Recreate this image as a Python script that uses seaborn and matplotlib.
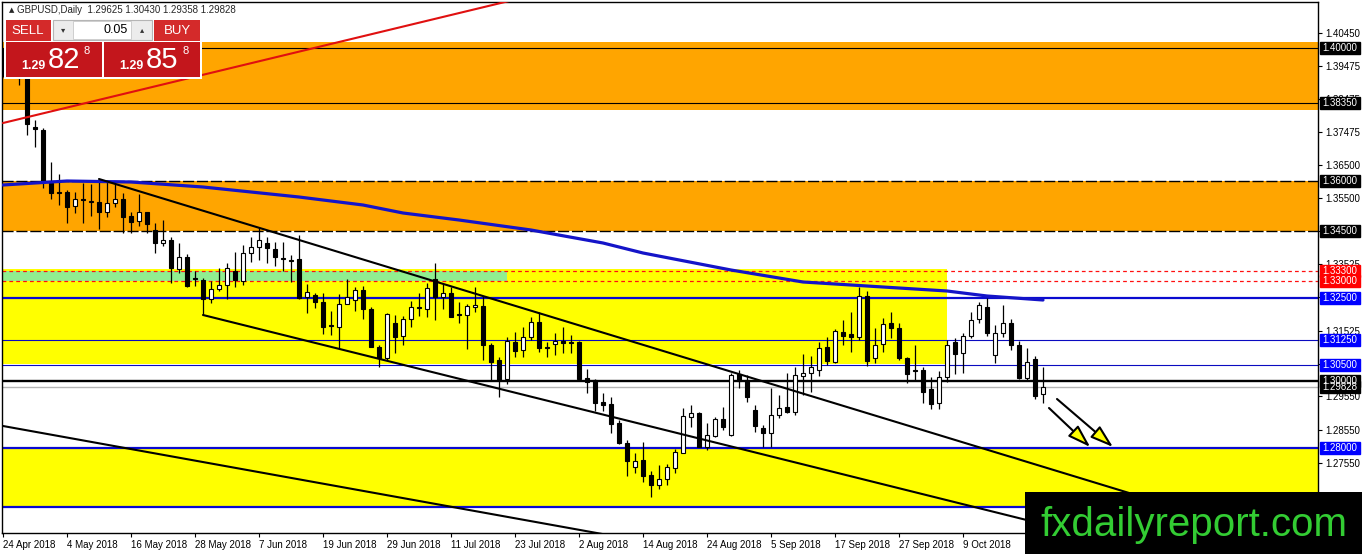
import numpy as np
import matplotlib
matplotlib.use("Agg")
import matplotlib.pyplot as plt
import matplotlib.transforms as mtransforms
from matplotlib.patches import Rectangle
import seaborn as sns

# daily GBPUSD candles, 24 Apr 2018 .. 23 Oct 2018
opens = [1.3966, 1.3970, 1.3930, 1.3925, 1.3763, 1.3754, 1.3595, 1.3567, 1.3568, 1.3526,
         1.3545, 1.3538, 1.3538, 1.3508, 1.3535, 1.3547, 1.3496, 1.3481, 1.3508, 1.3454,
         1.3415, 1.3424, 1.3337, 1.3373, 1.3307, 1.3304, 1.3247, 1.3277, 1.3289, 1.3331,
         1.3301, 1.3385, 1.3403, 1.3415, 1.3397, 1.3367, 1.3364, 1.3367, 1.3253, 1.3259,
         1.3238, 1.3166, 1.3163, 1.3232, 1.3244, 1.3274, 1.3217, 1.3103, 1.3070, 1.3175,
         1.3136, 1.3187, 1.3220, 1.3217, 1.3307, 1.3253, 1.3265, 1.3199, 1.3199, 1.3223,
         1.3226, 1.3109, 1.3064, 1.3007, 1.3118, 1.3094, 1.3133, 1.3178, 1.3100, 1.3112,
         1.3121, 1.3118, 1.3118, 1.3010, 1.3004, 1.2938, 1.2932, 1.2875, 1.2815, 1.2743,
         1.2764, 1.2719, 1.2689, 1.2707, 1.2740, 1.2785, 1.2893, 1.2905, 1.2803, 1.2836,
         1.2887, 1.2839, 1.3022, 1.3004, 1.2914, 1.2860, 1.2845, 1.2899, 1.2923, 1.2908,
         1.3016, 1.3025, 1.3034, 1.3103, 1.3058, 1.3148, 1.3142, 1.3133, 1.3256, 1.3070,
         1.3112, 1.3175, 1.3160, 1.3070, 1.3031, 1.3034, 1.2977, 1.2935, 1.3013, 1.3118,
         1.3085, 1.3136, 1.3187, 1.3223, 1.3079, 1.3145, 1.3175, 1.3109, 1.3010, 1.3067,
         1.29625]
highs = [1.4000, 1.3990, 1.3960, 1.3930, 1.3784, 1.3760, 1.3658, 1.3622, 1.3574, 1.3568,
         1.3595, 1.3592, 1.3607, 1.3601, 1.3598, 1.3565, 1.3508, 1.3562, 1.3508, 1.3475,
         1.3484, 1.3433, 1.3415, 1.3382, 1.3331, 1.3310, 1.3301, 1.3340, 1.3355, 1.3388,
         1.3409, 1.3433, 1.3463, 1.3433, 1.3418, 1.3418, 1.3379, 1.3439, 1.3292, 1.3265,
         1.3265, 1.3211, 1.3262, 1.3307, 1.3283, 1.3286, 1.3223, 1.3109, 1.3205, 1.3199,
         1.3196, 1.3241, 1.3265, 1.3295, 1.3355, 1.3295, 1.3283, 1.3238, 1.3232, 1.3283,
         1.3256, 1.3115, 1.3073, 1.3133, 1.3148, 1.3163, 1.3193, 1.3208, 1.3118, 1.3145,
         1.3163, 1.3139, 1.3121, 1.3037, 1.3007, 1.2965, 1.2953, 1.2884, 1.2824, 1.2785,
         1.2818, 1.2731, 1.2749, 1.2752, 1.2797, 1.2920, 1.2929, 1.2908, 1.2875, 1.2893,
         1.2923, 1.3025, 1.3034, 1.3019, 1.2929, 1.2869, 1.2980, 1.2959, 1.3025, 1.3043,
         1.3082, 1.3076, 1.3118, 1.3133, 1.3157, 1.3184, 1.3208, 1.3283, 1.3271, 1.3160,
         1.3190, 1.3208, 1.3175, 1.3073, 1.3109, 1.3043, 1.3013, 1.3031, 1.3124, 1.3130,
         1.3145, 1.3208, 1.3238, 1.3250, 1.3169, 1.3229, 1.3187, 1.3121, 1.3100, 1.3076,
         1.30430]
lows = [1.3912, 1.3925, 1.3889, 1.3739, 1.3703, 1.3580, 1.3547, 1.3529, 1.3475, 1.3505,
        1.3475, 1.3496, 1.3457, 1.3493, 1.3523, 1.3445, 1.3445, 1.3466, 1.3445, 1.3385,
        1.3406, 1.3295, 1.3325, 1.3283, 1.3286, 1.3200, 1.3235, 1.3271, 1.3247, 1.3283,
        1.3289, 1.3358, 1.3364, 1.3355, 1.3346, 1.3331, 1.3298, 1.3247, 1.3205, 1.3220,
        1.3142, 1.3139, 1.3100, 1.3232, 1.3211, 1.3187, 1.3103, 1.3043, 1.3064, 1.3085,
        1.3109, 1.3163, 1.3196, 1.3193, 1.3184, 1.3217, 1.3193, 1.3175, 1.3097, 1.3208,
        1.3064, 1.3004, 1.2953, 1.2992, 1.3073, 1.3073, 1.3124, 1.3088, 1.3073, 1.3079,
        1.3085, 1.3085, 1.3004, 1.2965, 1.2911, 1.2911, 1.2845, 1.2812, 1.2716, 1.2725,
        1.2698, 1.2653, 1.2677, 1.2689, 1.2725, 1.2785, 1.2863, 1.2803, 1.2794, 1.2833,
        1.2854, 1.2836, 1.2980, 1.2938, 1.2848, 1.2803, 1.2803, 1.2890, 1.2905, 1.2899,
        1.2959, 1.2968, 1.3016, 1.3049, 1.3055, 1.3109, 1.3088, 1.3124, 1.3046, 1.3055,
        1.3088, 1.3130, 1.3064, 1.2995, 1.3004, 1.2935, 1.2917, 1.2917, 1.2998, 1.3022,
        1.3025, 1.3130, 1.3175, 1.3136, 1.3055, 1.3133, 1.3094, 1.3007, 1.3001, 1.2947,
        1.29358]
closes = [1.3970, 1.3935, 1.3910, 1.3772, 1.3758, 1.3601, 1.3565, 1.3565, 1.3523, 1.3547,
          1.3544, 1.3538, 1.3508, 1.3535, 1.3547, 1.3493, 1.3478, 1.3508, 1.3472, 1.3415,
          1.3424, 1.3340, 1.3373, 1.3286, 1.3306, 1.3247, 1.3277, 1.3289, 1.3340, 1.3304,
          1.3385, 1.3403, 1.3424, 1.3400, 1.3373, 1.3366, 1.3362, 1.3250, 1.3268, 1.3238,
          1.3163, 1.3165, 1.3232, 1.3253, 1.3274, 1.3217, 1.3103, 1.3070, 1.3202, 1.3133,
          1.3187, 1.3223, 1.3219, 1.3280, 1.3253, 1.3265, 1.3193, 1.3198, 1.3226, 1.3229,
          1.3109, 1.3058, 1.3004, 1.3121, 1.3091, 1.3133, 1.3178, 1.3100, 1.3099, 1.3121,
          1.3115, 1.3115, 1.3007, 1.2998, 1.2935, 1.2929, 1.2872, 1.2815, 1.2761, 1.2761,
          1.2716, 1.2689, 1.2707, 1.2743, 1.2788, 1.2896, 1.2905, 1.2803, 1.2839, 1.2887,
          1.2863, 1.3019, 1.3001, 1.2953, 1.2866, 1.2845, 1.2899, 1.2920, 1.2908, 1.3019,
          1.3025, 1.3043, 1.3100, 1.3061, 1.3151, 1.3136, 1.3133, 1.3256, 1.3061, 1.3109,
          1.3172, 1.3160, 1.3070, 1.3022, 1.3030, 1.2968, 1.2932, 1.3013, 1.3109, 1.3082,
          1.3136, 1.3184, 1.3229, 1.3145, 1.3145, 1.3175, 1.3109, 1.3010, 1.3058, 1.2956,
          1.29828]

date_labels = ["24 Apr 2018", "4 May 2018", "16 May 2018", "28 May 2018", "7 Jun 2018",
               "19 Jun 2018", "29 Jun 2018", "11 Jul 2018", "23 Jul 2018", "2 Aug 2018",
               "14 Aug 2018", "24 Aug 2018", "5 Sep 2018", "17 Sep 2018", "27 Sep 2018",
               "9 Oct 2018"]
date_bars = [0, 8, 16, 24, 32, 40, 48, 56, 64, 72, 80, 88, 96, 104, 112, 120]

# moving average, sampled along the drawn curve
ma_bars = [0, 8, 16, 25, 37, 45, 50, 57, 66, 75, 80, 91, 100, 110, 118, 123, 130]
ma_vals = [1.3589, 1.3601, 1.3598, 1.3583, 1.3553, 1.3529, 1.3505, 1.3484, 1.3454,
           1.3415, 1.3385, 1.3334, 1.3298, 1.3283, 1.3271, 1.3256, 1.3244]

# trend lines (bar, price) end points
red_line = ([0, 70], [1.3775, 1.4180])
chan_upper = ([12, 143.5], [1.3607, 1.2645])
chan_lower = ([25, 140], [1.3199, 1.2512])
low_line = ([0, 80], [1.2866, 1.2520])

price_ticks = [1.40450, 1.39475, 1.38475, 1.37475, 1.36500, 1.35500, 1.34525, 1.33525,
               1.32525, 1.31525, 1.30525, 1.29550, 1.28550, 1.27550, 1.26550]

# horizontal levels: price, colour, width, style, label box colour
levels = [
    (1.40000, "black", 0.8, "-", "black"),
    (1.38350, "black", 0.8, "-", "black"),
    (1.36000, "black", 1.0, (0, (8, 2)), "black"),
    (1.34500, "black", 1.0, (0, (8, 2)), "black"),
    (1.33300, "#ff1010", 0.9, (0, (3, 2.5)), "red"),
    (1.33000, "#ff1010", 0.9, (0, (3, 2.5)), "red"),
    (1.32500, "#0a0ad0", 1.6, "-", "blue"),
    (1.31250, "#0a0ac0", 0.8, "-", "blue"),
    (1.30500, "#0a0ac0", 0.8, "-", "blue"),
    (1.29828, "#b4b4b4", 1.0, "-", "black"),
    (1.30000, "black", 1.7, "-", "black"),
    (1.28000, "#0a0ad0", 1.6, "-", "blue"),
    (1.26230, "#0a0ad0", 1.6, "-", None),
]

sns.set_style("white")
plt.rcParams["font.family"] = ["Liberation Sans", "DejaVu Sans"]

W, H = 1362, 554
fig = plt.figure(figsize=(W / 100, H / 100), dpi=100)
ax = fig.add_axes([2 / W, 1 - 533 / H, 1316 / W, 531 / H])
ax.set_xlim(-0.125, 164.375)
ax.set_ylim(1.2545, 1.4138)

# zones
ax.axhspan(1.3814, 1.4018, color="#ffa500", lw=0, zorder=0.2)
ax.axhspan(1.3450, 1.3600, color="#ffa500", lw=0, zorder=0.2)
ax.axhspan(1.2623, 1.2800, color="#ffff00", lw=0, zorder=0.2)
ax.fill_between([-1, 118], 1.3053, 1.3338, color="#ffff00", lw=0, zorder=0.2)
ax.fill_between([-1, 63], 1.3300, 1.3330, color="#90ee90", lw=0, zorder=0.3)

for p, c, lw, ls, _ in levels:
    ax.axhline(p, color=c, lw=lw, ls=ls, zorder=1)

# candles
o = np.array(opens)
h = np.array(highs)
l = np.array(lows)
c = np.array(closes)
idx = np.arange(len(o))
up = c >= o
bottom = np.minimum(o, c)
height = np.maximum(np.abs(c - o), 0.0003)
ax.vlines(idx, l, h, color="black", lw=0.9, zorder=3)
ax.bar(idx[up], height[up], bottom=bottom[up], width=0.6, color="white",
       edgecolor="black", lw=0.8, zorder=3.2)
ax.bar(idx[~up], height[~up], bottom=bottom[~up], width=0.6, color="black",
       edgecolor="black", lw=0.8, zorder=3.2)

sns.lineplot(x=ma_bars, y=ma_vals, ax=ax, color="#1414c8", lw=2.3, zorder=4,
             estimator=None)

ax.plot(*red_line, color="#e01010", lw=1.5, zorder=4)
for ln in (chan_upper, chan_lower, low_line):
    ax.plot(*ln, color="black", lw=1.5, zorder=4)

arrow_kw = dict(arrowstyle="-|>,head_length=1.4,head_width=0.45", fc="yellow",
                ec="black", lw=1.5, mutation_scale=10, shrinkA=0, shrinkB=0)
ax.annotate("", xy=(135.9, 1.2803), xytext=(130.75, 1.2920), arrowprops=arrow_kw, zorder=6)
ax.annotate("", xy=(138.75, 1.2803), xytext=(131.75, 1.2947), arrowprops=arrow_kw, zorder=6)

# axes
ax.set_xticks(date_bars)
ax.set_xticklabels(date_labels, ha="left")
ax.yaxis.tick_right()
ax.set_yticks(price_ticks)
ax.set_yticklabels([f"{v:.5f}" for v in price_ticks])
ax.tick_params(axis="both", direction="out", length=3, width=0.8, color="black",
               labelsize=7, pad=2, labelcolor="black")
ax.tick_params(axis="y", left=False, right=True)
ax.tick_params(axis="x", bottom=True)
for sp in ax.spines.values():
    sp.set_color("black")
    sp.set_linewidth(1.0)

# price label boxes on the right
blend = mtransforms.blended_transform_factory(fig.transFigure, ax.transData)
for p, _, _, _, box in levels:
    if box is None:
        continue
    ax.add_patch(Rectangle((1320 / W, p - 0.0018), 40 / W, 0.0036, transform=blend,
                           color=box, clip_on=False, zorder=10))
    ax.text(1340 / W, p, f"{p:.5f}", transform=blend, ha="center", va="center",
            color="white", fontsize=7, clip_on=False, zorder=11)


def fig_rect(x, y, w, hh, **kw):
    fig.add_artist(Rectangle((x / W, 1 - (y + hh) / H), w / W, hh / H,
                             transform=fig.transFigure, **kw))


def fig_txt(x, y, s, **kw):
    fig.text(x / W, 1 - y / H, s, **kw)


fig_txt(9, 10, "\u25b2", fontsize=5, family="DejaVu Sans", va="center")
fig_txt(17, 10, "GBPUSD,Daily  1.29625 1.30430 1.29358 1.29828", fontsize=7, va="center")

# one-click trading panel
fig_rect(4, 18, 198, 61, color="white", lw=0, zorder=5)
fig_rect(6, 20, 45, 21, color="#d42a2a", lw=0, zorder=6)
fig_rect(154, 20, 46, 21, color="#d42a2a", lw=0, zorder=6)
fig_rect(53, 20, 99, 20, facecolor="#ececec", edgecolor="#b5b5b5", lw=0.8, zorder=6)
fig_rect(73, 21, 58, 18, facecolor="white", edgecolor="#c8c8c8", lw=0.6, zorder=7)
fig_rect(6, 42, 96, 35, color="#c3161c", lw=0, zorder=6)
fig_rect(104, 42, 96, 35, color="#c3161c", lw=0, zorder=6)
fig_txt(28, 31, "SELL", color="white", fontsize=9.5, ha="center", va="center", zorder=8)
fig_txt(177, 31, "BUY", color="white", fontsize=9.5, ha="center", va="center", zorder=8)
fig_txt(63, 30, "\u25be", color="#333333", fontsize=6, ha="center", va="center",
        family="DejaVu Sans", zorder=8)
fig_txt(142, 30, "\u25b4", color="#333333", fontsize=6, ha="center", va="center",
        family="DejaVu Sans", zorder=8)
fig_txt(128, 30, "0.05", color="black", fontsize=9, ha="right", va="center", zorder=8)
for x0, big in ((21, "82"), (119, "85")):
    fig_txt(x0, 69, "1.29", color="white", fontsize=9, fontweight="bold", va="baseline", zorder=8)
    fig_txt(x0 + 27, 68, big, color="white", fontsize=21, va="baseline", zorder=8)
    fig_txt(x0 + 63, 46, "8", color="white", fontsize=8, va="top", zorder=8)

# watermark
fig_rect(1025, 492, 337, 62, color="black", lw=0, zorder=20)
fig_txt(1040, 536, "fxdailyreport.com", color="#33cc33", fontsize=29,
        va="baseline", zorder=21)

fig.savefig("out.png", dpi=100)
